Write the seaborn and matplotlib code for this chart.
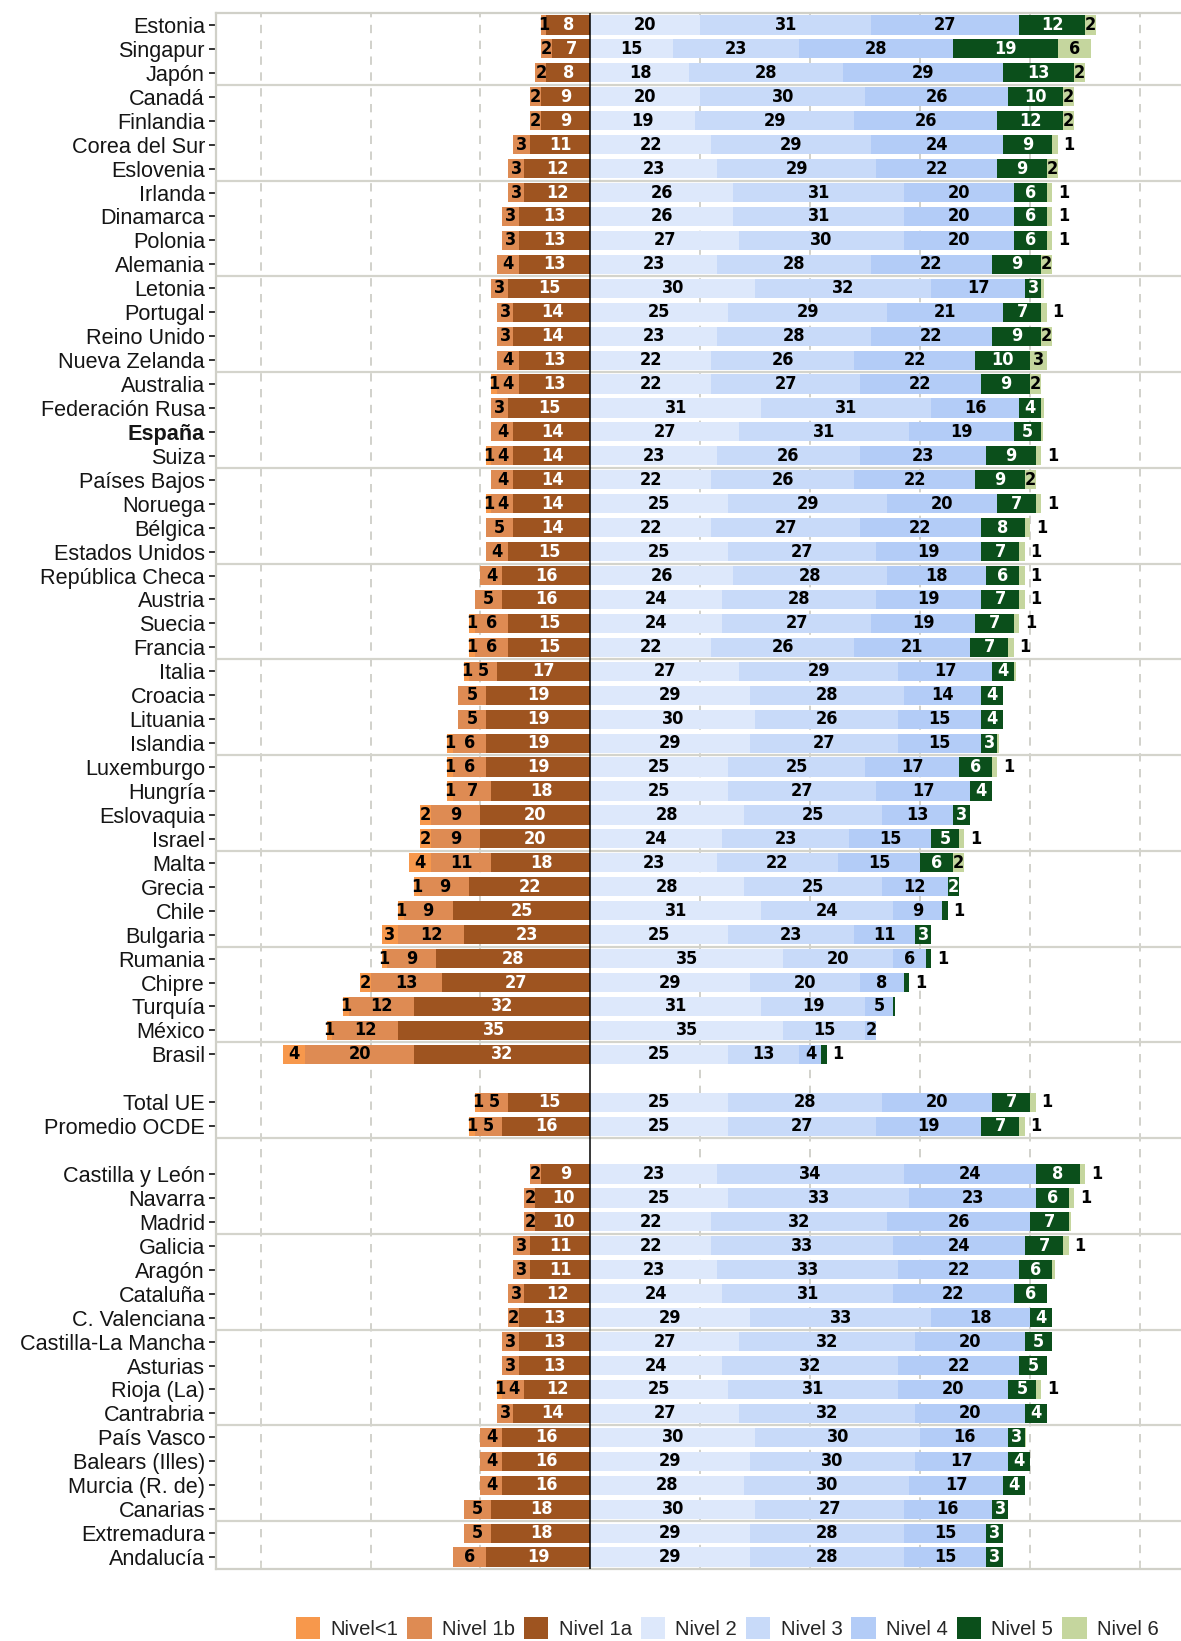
import numpy as np
import pandas as pd
import matplotlib
matplotlib.use('Agg')
import matplotlib.pyplot as plt
from matplotlib.patches import Patch
import seaborn as sns

# rows, top to bottom
paises = ['Estonia', 'Singapur', 'Japón', 'Canadá', 'Finlandia', 'Corea del Sur', 'Eslovenia',
          'Irlanda', 'Dinamarca', 'Polonia', 'Alemania', 'Letonia', 'Portugal', 'Reino Unido',
          'Nueva Zelanda', 'Australia', 'Federación Rusa', 'España', 'Suiza', 'Países Bajos',
          'Noruega', 'Bélgica', 'Estados Unidos', 'República Checa', 'Austria', 'Suecia',
          'Francia', 'Italia', 'Croacia', 'Lituania', 'Islandia', 'Luxemburgo', 'Hungría',
          'Eslovaquia', 'Israel', 'Malta', 'Grecia', 'Chile', 'Bulgaria', 'Rumania', 'Chipre',
          'Turquía', 'México', 'Brasil',
          'Total UE', 'Promedio OCDE',
          'Castilla y León', 'Navarra', 'Madrid', 'Galicia', 'Aragón', 'Cataluña',
          'C. Valenciana', 'Castilla-La Mancha', 'Asturias', 'Rioja (La)', 'Cantrabria',
          'País Vasco', 'Balears (Illes)', 'Murcia (R. de)', 'Canarias', 'Extremadura',
          'Andalucía']
huecos_tras = ['Brasil', 'Promedio OCDE']

nivel_lt1 = [0, 0, 0, 0, 0, 0, 0, 0, 0, 0, 0, 0, 0, 0, 0, 1, 0, 0, 1, 0, 1, 0, 0, 0, 0, 1, 1,
             1, 0, 0, 1, 1, 1, 2, 2, 4, 1, 1, 3, 1, 2, 1, 1, 4,
             1, 1,
             0, 0, 0, 0, 0, 0, 0, 0, 0, 1, 0, 0, 0, 0, 0, 0, 0]
nivel_1b = [1, 2, 2, 2, 2, 3, 3, 3, 3, 3, 4, 3, 3, 3, 4, 4, 3, 4, 4, 4, 4, 5, 4, 4, 5, 6, 6,
            5, 5, 5, 6, 6, 7, 9, 9, 11, 9, 9, 12, 9, 13, 12, 12, 20,
            5, 5,
            2, 2, 2, 3, 3, 3, 2, 3, 3, 4, 3, 4, 4, 4, 5, 5, 6]
nivel_1a = [8, 7, 8, 9, 9, 11, 12, 12, 13, 13, 13, 15, 14, 14, 13, 13, 15, 14, 14, 14, 14, 14,
            15, 16, 16, 15, 15, 17, 19, 19, 19, 19, 18, 20, 20, 18, 22, 25, 23, 28, 27, 32, 35, 32,
            15, 16,
            9, 10, 10, 11, 11, 12, 13, 13, 13, 12, 14, 16, 16, 16, 18, 18, 19]
nivel_2 = [20, 15, 18, 20, 19, 22, 23, 26, 26, 27, 23, 30, 25, 23, 22, 22, 31, 27, 23, 22, 25,
           22, 25, 26, 24, 24, 22, 27, 29, 30, 29, 25, 25, 28, 24, 23, 28, 31, 25, 35, 29, 31, 35, 25,
           25, 25,
           23, 25, 22, 22, 23, 24, 29, 27, 24, 25, 27, 30, 29, 28, 30, 29, 29]
nivel_3 = [31, 23, 28, 30, 29, 29, 29, 31, 31, 30, 28, 32, 29, 28, 26, 27, 31, 31, 26, 26, 29,
           27, 27, 28, 28, 27, 26, 29, 28, 26, 27, 25, 27, 25, 23, 22, 25, 24, 23, 20, 20, 19, 15, 13,
           28, 27,
           34, 33, 32, 33, 33, 31, 33, 32, 32, 31, 32, 30, 30, 30, 27, 28, 28]
nivel_4 = [27, 28, 29, 26, 26, 24, 22, 20, 20, 20, 22, 17, 21, 22, 22, 22, 16, 19, 23, 22, 20,
           22, 19, 18, 19, 19, 21, 17, 14, 15, 15, 17, 17, 13, 15, 15, 12, 9, 11, 6, 8, 5, 2, 4,
           20, 19,
           24, 23, 26, 24, 22, 22, 18, 20, 22, 20, 20, 16, 17, 17, 16, 15, 15]
nivel_5 = [12, 19, 13, 10, 12, 9, 9, 6, 6, 6, 9, 3, 7, 9, 10, 9, 4, 5, 9, 9, 7, 8, 7, 6, 7, 7,
           7, 4, 4, 4, 3, 6, 4, 3, 5, 6, 2, 1, 3, 1, 1, 0.4, 0, 1,
           7, 7,
           8, 6, 7, 7, 6, 6, 4, 5, 5, 5, 4, 3, 4, 4, 3, 3, 3]
nivel_6 = [2, 6, 2, 2, 2, 1, 2, 1, 1, 1, 2, 0.4, 1, 2, 3, 2, 0.4, 0.3, 1, 2, 1, 1, 1, 1, 1, 1,
           1, 0.4, 0, 0, 0.3, 1, 0, 0, 1, 2, 0, 0, 0, 0, 0, 0, 0, 0,
           1, 1,
           1, 1, 0.4, 1, 0.4, 0, 0, 0, 0, 1, 0, 0.3, 0, 0, 0, 0, 0]

niveles = ['Nivel<1', 'Nivel 1b', 'Nivel 1a', 'Nivel 2', 'Nivel 3', 'Nivel 4', 'Nivel 5', 'Nivel 6']
colores = ['#F7984C', '#DE8B53', '#9E5420', '#DDE8FB', '#C8DAF9', '#B3CCF7', '#0B4F1B', '#C5D69E']

# category order with two empty slots
orden = []
for p in paises:
    orden.append(p)
    if p in huecos_tras:
        orden.append(' ' * (len(orden) % 7 + 1))
pos = {c: i for i, c in enumerate(orden)}

df = pd.DataFrame({'pais': paises, 'lt1': nivel_lt1, 'n1b': nivel_1b, 'n1a': nivel_1a,
                   'n2': nivel_2, 'n3': nivel_3, 'n4': nivel_4, 'n5': nivel_5, 'n6': nivel_6})
df['izq_1a'] = -df['n1a']
df['izq_1b'] = -(df['n1a'] + df['n1b'])
df['izq_lt1'] = -(df['n1a'] + df['n1b'] + df['lt1'])
df['der_2'] = df['n2']
df['der_3'] = df['der_2'] + df['n3']
df['der_4'] = df['der_3'] + df['n4']
df['der_5'] = df['der_4'] + df['n5']
df['der_6'] = df['der_5'] + df['n6']

sns.set_theme(style='white')
plt.rcParams['font.family'] = ['Liberation Sans', 'DejaVu Sans']

fig = plt.figure(figsize=(11.81, 16.41), dpi=100)
ax = fig.add_axes([216 / 1181, 1 - 1569 / 1641, (1181 - 216) / 1181, (1569 - 13) / 1641])

capas = [('izq_lt1', 0), ('izq_1b', 1), ('izq_1a', 2),
         ('der_6', 7), ('der_5', 6), ('der_4', 5), ('der_3', 4), ('der_2', 3)]
for col, k in capas:
    sns.barplot(data=df, y='pais', x=col, order=orden, orient='h', color=colores[k],
                saturation=1, errorbar=None, width=0.8, linewidth=0, ax=ax, zorder=2)

ax.set_xlim(-68.1, 107.4)
ax.set_ylim(64.5, -0.5)
ax.set_xlabel('')
ax.set_ylabel('')

# grid / separators
ax.set_xticks(np.arange(-60, 101, 20))
ax.set_xticklabels([])
ax.tick_params(axis='x', direction='in', length=4, color='#D8D8D0', bottom=True)
for x in np.arange(-60, 101, 20):
    if x != 0:
        ax.axvline(x, color='#CACAC2', lw=1.2, ls=(0, (5, 4.5)), zorder=0)
for k in range(16):
    ax.axhline(2.5 + 4 * k, color='#D4D4CC', lw=1.6, zorder=1)
ax.axvline(0, color='black', lw=1.1, zorder=4)

for s in ['top', 'left', 'bottom']:
    ax.spines[s].set_color('#D0D0C8')
    ax.spines[s].set_linewidth(1.6)
ax.spines['right'].set_visible(False)

ax.set_yticks([pos[p] for p in paises])
ax.set_yticklabels(paises, fontsize=15.6, color='#151515')
ax.tick_params(axis='y', left=True, length=5, width=1.4, color='#333333', pad=3)
for t in ax.get_yticklabels():
    if t.get_text() == 'España':
        t.set_fontweight('bold')

# segment labels
fnum = dict(fontsize=13, fontweight='bold', fontstretch='condensed',
            family=['Liberation Sans Narrow', 'DejaVu Sans'], va='center', zorder=5)
for _, r in df.iterrows():
    y = pos[r['pais']]
    izq = [(r['lt1'], -(r['n1a'] + r['n1b'] + r['lt1']), 'black'),
           (r['n1b'], -(r['n1a'] + r['n1b']), 'black'),
           (r['n1a'], -r['n1a'], 'white')]
    for v, start, c in izq:
        if v >= 0.5:
            ax.text(start + v / 2, y, f'{round(v)}', color=c, ha='center', **fnum)
    start = 0
    vals = [r['n2'], r['n3'], r['n4'], r['n5'], r['n6']]
    tot = sum(vals)
    for j, v in enumerate(vals):
        if v >= 0.5:
            if j >= 3 and v <= 1:
                ax.text(tot + 1.0, y, f'{round(v)}', color='black', ha='left', **fnum)
            else:
                c = 'white' if j == 3 else 'black'
                ax.text(start + v / 2, y, f'{round(v)}', color=c, ha='center', **fnum)
        start += v

handles = [Patch(facecolor=c, edgecolor='none') for c in colores]
fig.legend(handles, niveles, loc='center left', bbox_to_anchor=(296 / 1181, 1 - 1628 / 1641),
           ncol=8, frameon=False, fontsize=14.6, handlelength=1.2, handleheight=1.25,
           handletextpad=0.5, columnspacing=0.45, borderpad=0, borderaxespad=0)

fig.savefig('out.png', dpi=100)
